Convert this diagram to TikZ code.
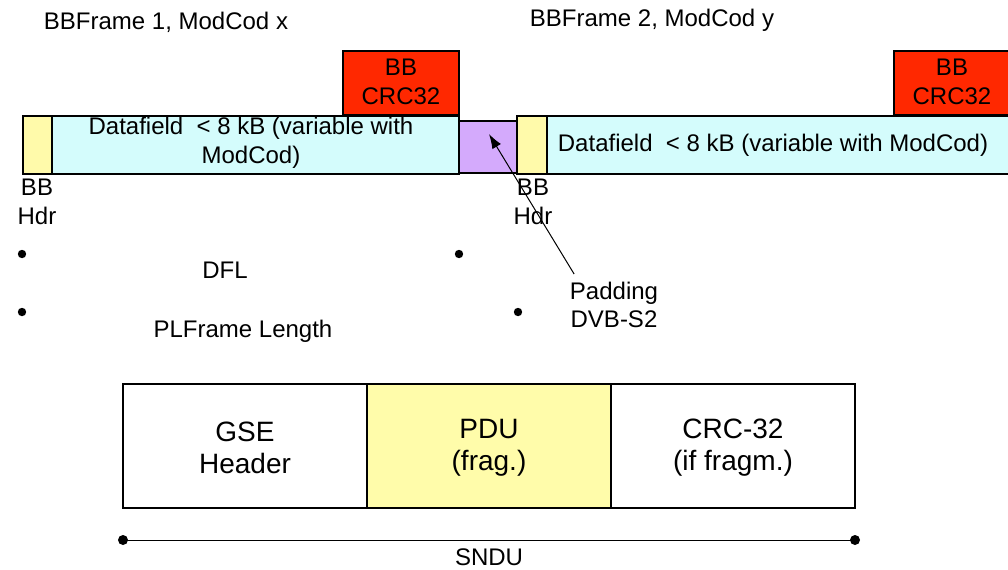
\documentclass[tikz,border=0pt]{standalone}
\usepackage{fontspec}
\setmainfont{Liberation Sans}
\usetikzlibrary{arrows.meta}

\definecolor{crcred}{RGB}{255,40,0}
\definecolor{datacyan}{RGB}{212,252,252}
\definecolor{hdryellow}{RGB}{255,250,170}
\definecolor{padviolet}{RGB}{212,170,252}
\definecolor{pduyellow}{RGB}{255,252,170}

\tikzset{every picture/.style={line width=0.75pt}}
\tikzset{
  field/.style={draw=black, line width=0.9pt},
  lbl/.style={align=center, inner sep=1pt, font=\fontsize{18}{21.5}\selectfont},
  seglbl/.style={align=center, inner sep=1pt, font=\fontsize{21}{24}\selectfont},
  bullet/.style={fill=black}
}

\begin{document}
\begin{tikzpicture}[x=0.75pt,y=0.75pt,yscale=-1,xscale=1]
\useasboundingbox (0,0) rectangle (1008,569);
\clip (0,0) rectangle (1008,569);

%Shape: Rectangle [id:bbhdr1]
\draw [field, fill=hdryellow] (23,116) -- (52,116) -- (52,174) -- (23,174) -- cycle ;
%Shape: Rectangle [id:datafield1]
\draw [field, fill=datacyan] (52,116) -- (459,116) -- (459,174) -- (52,174) -- cycle ;
%Shape: Rectangle [id:crc1]
\draw [field, fill=crcred] (343,51) -- (459,51) -- (459,115) -- (343,115) -- cycle ;
%Shape: Rectangle [id:padding]
\draw [field, fill=padviolet] (459,121) -- (517,121) -- (517,173) -- (459,173) -- cycle ;
%Shape: Rectangle [id:bbhdr2]
\draw [field, fill=hdryellow] (517,116) -- (547,116) -- (547,174) -- (517,174) -- cycle ;
%Shape: Rectangle [id:datafield2]
\draw [field, fill=datacyan] (547,116) -- (1015,116) -- (1015,174) -- (547,174) -- cycle ;
%Shape: Rectangle [id:crc2]
\draw [field, fill=crcred] (894,51) -- (1015,51) -- (1015,115) -- (894,115) -- cycle ;

%Shape: Rectangle [id:gsehdr]
\draw [field] (123,384) -- (367,384) -- (367,508) -- (123,508) -- cycle ;
%Shape: Rectangle [id:pdu]
\draw [field, fill=pduyellow] (367,384) -- (611,384) -- (611,508) -- (367,508) -- cycle ;
%Shape: Rectangle [id:crc32]
\draw [field] (611,384) -- (855,384) -- (855,508) -- (611,508) -- cycle ;

% Bullets
\fill [bullet] (22,254) circle (4.2) ;
\fill [bullet] (22,312) circle (4.2) ;
\fill [bullet] (459,254) circle (4.2) ;
\fill [bullet] (518,312) circle (4.2) ;

% Text Node
\draw (166,22) node [lbl] (bbf1) {BBFrame 1, ModCod x};
% Text Node
\draw (652,20) node [lbl] (bbf2) {BBFrame 2, ModCod y};
% Text Node
\draw (401,82) node [lbl] (crc1txt) {BB\\CRC32};
% Text Node
\draw (952,82) node [lbl] (crc2txt) {BB\\CRC32};
% Text Node
\draw (251,143) node [lbl] (df1txt) {Datafield\ \ < 8 kB (variable with\\ModCod)};
% Text Node
\draw (773,145) node [lbl] (df2txt) {Datafield\ \ < 8 kB (variable with ModCod)};
% Text Node
\draw (37,202) node [lbl] (hdr1txt) {BB\\Hdr};
% Text Node
\draw (533,202) node [lbl] (hdr2txt) {BB\\Hdr};
% Text Node
\draw (225,270) node [lbl] (dfl) {DFL};
% Text Node
\draw (243,331) node [lbl] (plf) {PLFrame Length};
% Text Node
\draw (614,305) node [lbl] (pad) {Padding\\DVB-S2};

% Text Node
\draw (245,448) node [seglbl] (gse) {GSE\\Header};
% Text Node
\draw (489,448) node [seglbl] (pdutxt) {PDU\\(frag.)};
% Text Node
\draw (733,448) node [seglbl] (crctxt) {CRC-32\\(if fragm.)};
% Text Node
\draw (489,557) node [lbl] (sndu) {SNDU};

%Straight Lines [id:padarrow]
\coordinate (padtip) at (489,134) ;
\draw [-{Latex[length=11pt,width=7.5pt]}] (pad.north west) ++(6,-6) -- (padtip) ;

%Straight Lines [id:sndu]
\coordinate (snduL) at (123,540) ;
\coordinate (snduR) at (855,540) ;
\draw (snduL) -- (snduR) ;
\fill [bullet] (snduL) circle (5) ;
\fill [bullet] (snduR) circle (5) ;

\end{tikzpicture}
\end{document}
